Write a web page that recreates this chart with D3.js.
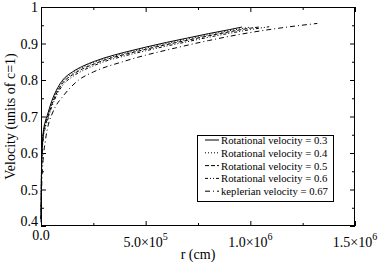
<!DOCTYPE html>
<html>
<head>
<meta charset="utf-8">
<script src="https://cdn.jsdelivr.net/npm/d3@7"></script>
<style>
  body { margin: 0; background: #fff; }
  svg { display: block; }
  text { font-family: "Liberation Serif", "DejaVu Serif", serif; fill: #000; }
</style>
</head>
<body>
<div id="chart"></div>
<script>
// # Chart size.
const width = 381
const height = 265
const margin = {top: 7, right: 26, bottom: 39, left: 41}

// # Axis ticks.
const xMajorTicks = [0, 5e5, 1e6, 1.5e6]
const xTickMantissa = ['0.0', '5.0', '1.0', '1.5']
const xTickExponent = [null, '5', '6', '6']
const xMinorTicks = [2.5e5, 7.5e5, 1.25e6]
const yMajorTicks = [0.4, 0.5, 0.6, 0.7, 0.8, 0.9, 1.0]
const yTickLabels = ['0.4', '0.5', '0.6', '0.7', '0.8', '0.9', '1']
const yMinorTicks = [0.45, 0.55, 0.65, 0.75, 0.85, 0.95]

// # Series (r in cm, velocity in units of c).
const seriesNames = [
    'Rotational velocity = 0.3',
    'Rotational velocity = 0.4',
    'Rotational velocity = 0.5',
    'Rotational velocity = 0.6',
    'keplerian velocity = 0.67'
]
const r03 = [0, 2e3, 5e3, 1e4, 2e4, 3e4, 5e4, 8e4, 1.04e5, 1.5e5, 2e5, 2.55e5, 3e5, 4e5, 5e5, 6e5, 7e5, 8e5, 9e5, 9.6e5]
const v03 = [0.42, 0.54, 0.61, 0.652, 0.685, 0.703, 0.74, 0.779, 0.8, 0.822, 0.838, 0.851, 0.86, 0.876, 0.89, 0.903, 0.915, 0.927, 0.938, 0.945]
const r04 = [0, 2e3, 5e3, 1e4, 2e4, 3e4, 5e4, 8e4, 1.04e5, 1.5e5, 2e5, 2.55e5, 3e5, 4e5, 5e5, 6e5, 7e5, 8e5, 9e5, 1.0e6]
const v04 = [0.42, 0.535, 0.605, 0.647, 0.68, 0.698, 0.735, 0.775, 0.796, 0.818, 0.835, 0.848, 0.857, 0.873, 0.887, 0.9, 0.912, 0.924, 0.935, 0.945]
const r05 = [0, 2e3, 5e3, 1e4, 2e4, 3e4, 5e4, 8e4, 1.04e5, 1.5e5, 2e5, 2.55e5, 3e5, 4e5, 5e5, 6e5, 7e5, 8e5, 9e5, 1.0e6, 1.04e6]
const v05 = [0.42, 0.53, 0.6, 0.642, 0.675, 0.693, 0.73, 0.77, 0.792, 0.814, 0.831, 0.844, 0.854, 0.87, 0.884, 0.897, 0.909, 0.921, 0.932, 0.942, 0.945]
const r06 = [0, 2e3, 5e3, 1e4, 2e4, 3e4, 5e4, 8e4, 1.04e5, 1.5e5, 2e5, 2.55e5, 3e5, 4e5, 5e5, 6e5, 7e5, 8e5, 9e5, 1.0e6, 1.09e6]
const v06 = [0.42, 0.52, 0.59, 0.634, 0.668, 0.687, 0.724, 0.764, 0.786, 0.809, 0.826, 0.84, 0.85, 0.866, 0.88, 0.893, 0.905, 0.917, 0.928, 0.938, 0.946]
const rKep = [0, 3e3, 1e4, 2e4, 4e4, 5e4, 7e4, 1e5, 1.4e5, 1.8e5, 2.5e5, 3.9e5, 5e5, 6e5, 8e5, 1e6, 1.15e6, 1.32e6]
const vKep = [0.41, 0.5, 0.58, 0.63, 0.688, 0.703, 0.728, 0.752, 0.779, 0.8, 0.822, 0.85, 0.868, 0.882, 0.908, 0.93, 0.943, 0.955]

const seriesR = [r03, r04, r05, r06, rKep]
const seriesV = [v03, v04, v05, v06, vKep]
const seriesDash = [null, '1,2', '4,2', '3,2,1,2,1,2', '5,3,1,3']

// # Scales.
const x = d3.scaleLinear().domain([0, 1.5e6]).range([margin.left, width - margin.right])
const y = d3.scaleLinear().domain([0.4, 1.0]).range([height - margin.bottom, margin.top])

const svg = d3.select('#chart')
    .append('svg')
    .attr('width', width)
    .attr('height', height)

// # Inward ticks on all four sides.
const addAxis = (axisFn, scale, ticks, size, transform) => {
    const g = svg.append('g')
        .attr('transform', transform)
        .call(axisFn(scale).tickValues(ticks).tickSize(size).tickFormat(''))
    g.select('.domain').remove()
    g.selectAll('line').attr('stroke', '#000')
    return g
}
const x0 = height - margin.bottom
const y0 = margin.left
addAxis(d3.axisBottom, x, xMajorTicks, -5, `translate(0,${x0})`)
addAxis(d3.axisBottom, x, xMinorTicks, -3, `translate(0,${x0})`)
addAxis(d3.axisTop, x, xMajorTicks, -5, `translate(0,${margin.top})`)
addAxis(d3.axisTop, x, xMinorTicks, -3, `translate(0,${margin.top})`)
addAxis(d3.axisLeft, y, yMajorTicks, -5, `translate(${y0},0)`)
addAxis(d3.axisLeft, y, yMinorTicks, -3, `translate(${y0},0)`)
addAxis(d3.axisRight, y, yMajorTicks, -5, `translate(${width - margin.right},0)`)
addAxis(d3.axisRight, y, yMinorTicks, -3, `translate(${width - margin.right},0)`)

// # Frame.
svg.append('rect')
    .attr('x', margin.left + 0.5)
    .attr('y', margin.top + 0.5)
    .attr('width', width - margin.left - margin.right - 1)
    .attr('height', height - margin.top - margin.bottom - 1)
    .attr('fill', 'none')
    .attr('stroke', '#000')

// # Y tick labels (the lowest one nudged up so it clears 0.0).
svg.append('g').selectAll('text')
    .data(yMajorTicks)
    .enter().append('text')
    .attr('x', margin.left - 3)
    .attr('y', (d, i) => y(d) + (i === 0 ? 0 : 5))
    .attr('text-anchor', 'end')
    .attr('font-size', 14)
    .text((d, i) => yTickLabels[i])

// # X tick labels with powers of ten.
const xLabels = svg.append('g').selectAll('text')
    .data(xMajorTicks)
    .enter().append('text')
    .attr('x', (d) => x(d))
    .attr('y', (d, i) => xTickExponent[i] ? 247 : 240)
    .attr('text-anchor', 'middle')
    .attr('font-size', 14)
xLabels.append('tspan').text((d, i) => xTickExponent[i] ? xTickMantissa[i] + '\u00d710' : xTickMantissa[i])
xLabels.filter((d, i) => xTickExponent[i])
    .append('tspan')
    .attr('dy', -7)
    .attr('font-size', 10)
    .text((d) => xTickExponent[xMajorTicks.indexOf(d)])

// # Axis titles.
svg.append('text')
    .attr('x', (margin.left + width - margin.right) / 2)
    .attr('y', 259)
    .attr('text-anchor', 'middle')
    .attr('font-size', 14)
    .text('r (cm)')
svg.append('text')
    .attr('transform', `translate(15,${(margin.top + height - margin.bottom) / 2}) rotate(-90)`)
    .attr('text-anchor', 'middle')
    .attr('font-size', 14)
    .text('Velocity (units of c=1)')

// # Curves.
const line = d3.line()
    .x((d) => x(d[0]))
    .y((d) => y(d[1]))
    .curve(d3.curveMonotoneX)
seriesR.forEach((rs, i) => {
    svg.append('path')
        .datum(rs.map((r, j) => [r, seriesV[i][j]]))
        .attr('d', line)
        .attr('fill', 'none')
        .attr('stroke', '#000')
        .attr('stroke-width', 1)
        .attr('stroke-dasharray', seriesDash[i])
})

// # Legend.
const legend = svg.append('g')
legend.append('rect')
    .attr('x', 197.5)
    .attr('y', 135.5)
    .attr('width', 136)
    .attr('height', 66)
    .attr('fill', '#fff')
    .attr('stroke', '#000')
seriesNames.forEach((name, i) => {
    const ly = 140 + i * 12.8
    legend.append('line')
        .attr('x1', 205).attr('x2', 219)
        .attr('y1', ly).attr('y2', ly)
        .attr('stroke', '#000')
        .attr('stroke-width', 1)
        .attr('stroke-dasharray', seriesDash[i])
    legend.append('text')
        .attr('x', 221)
        .attr('y', ly + 4)
        .attr('font-size', 10.7)
        .text(name)
})
</script>
</body>
</html>
